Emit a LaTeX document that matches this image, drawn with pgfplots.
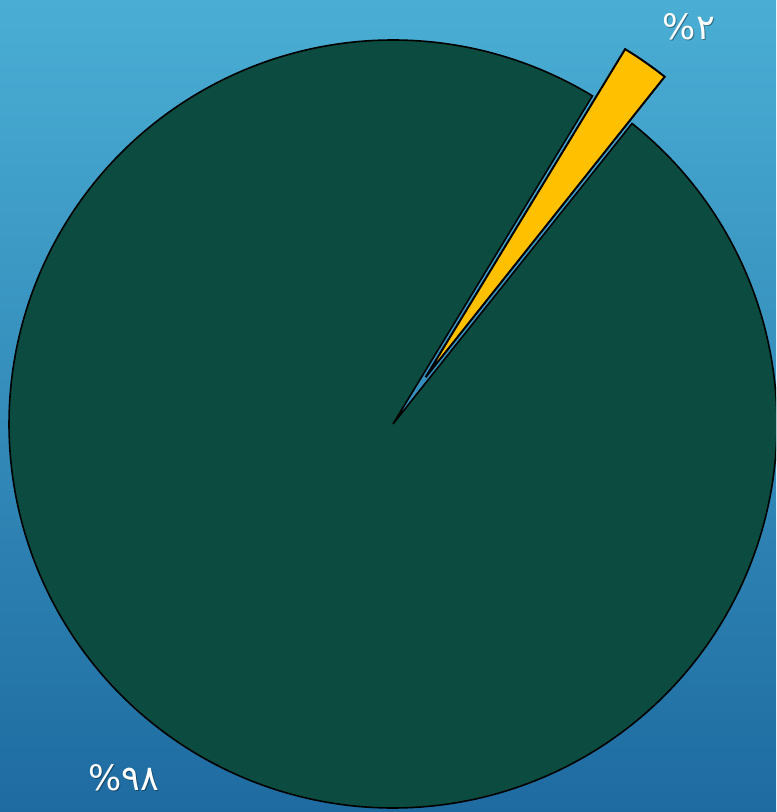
\documentclass[border=0pt]{standalone}
\usepackage{pgfplots}
\pgfplotsset{compat=1.18}
\usepackage{pgfplotstable}
\usepackage{fontspec}
\newfontfamily\arabicfont[Script=Arabic]{DejaVu Sans}
\definecolor{bgtop}{HTML}{4AAED4}
\definecolor{bgbot}{HTML}{1E6BA1}
\definecolor{pgreen}{HTML}{0C4B3F}
\definecolor{pyellow}{HTML}{FFC000}
\pgfplotstableread{
part value
1 98
2 2
}\piedata
\begin{document}
\begin{tikzpicture}
\pgfplotstablegetelem{0}{value}\of\piedata \let\vA\pgfplotsretval
\pgfplotstablegetelem{1}{value}\of\piedata \let\vB\pgfplotsretval
\pgfmathsetmacro\ys{51.5}
\pgfmathsetmacro\ye{\ys+3.6*\vB}
\pgfmathsetmacro\ge{\ye+3.6*\vA}
\pgfmathsetmacro\ym{(\ys+\ye)/2}
\pgfmathsetmacro\yx{393+57*cos(\ym)}
\pgfmathsetmacro\yy{388+57*sin(\ym)}
\begin{axis}[scale only axis, width=388pt, height=406pt,
  xmin=0, xmax=776, ymin=0, ymax=812, axis lines=none, ticks=none]
\fill[top color=bgtop, bottom color=bgbot] (rel axis cs:0,0) rectangle (rel axis cs:1,1);
\addplot[fill=pgreen, draw=black, line width=0.8pt, domain=\ye:\ge, samples=360, variable=\t]
  ({393+384*cos(\t)},{388+384*sin(\t)}) -- (axis cs:393,388) -- cycle;
\addplot[fill=pyellow, draw=black, line width=1pt, domain=\ys:\ye, samples=20, variable=\t]
  ({\yx+384*cos(\t)},{\yy+384*sin(\t)}) -- (axis cs:\yx,\yy) -- cycle;
\node[text=black, opacity=0.35, font=\arabicfont\fontsize{17.5}{20}\selectfont] at (axis cs:690,784) {\%۲};
\node[text=white, font=\arabicfont\fontsize{17.5}{20}\selectfont] at (axis cs:689,785) {\%۲};
\node[text=black, opacity=0.35, font=\arabicfont\fontsize{17.5}{20}\selectfont] at (axis cs:125,33) {\%۹۸};
\node[text=white, font=\arabicfont\fontsize{17.5}{20}\selectfont] at (axis cs:124,34) {\%۹۸};
\end{axis}
\end{tikzpicture}
\end{document}
